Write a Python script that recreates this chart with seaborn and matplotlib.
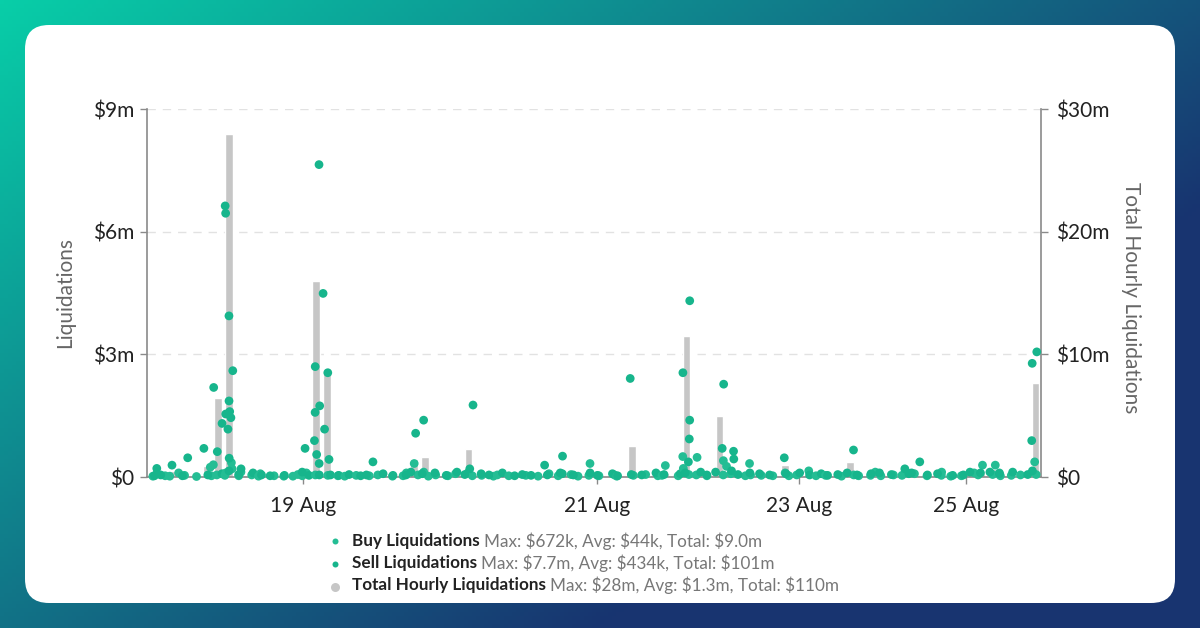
import numpy as np
import matplotlib
matplotlib.use("Agg")
import matplotlib.pyplot as plt
from matplotlib.patches import FancyBboxPatch
from matplotlib.lines import Line2D
import pandas as pd
import seaborn as sns

# total liquidations per hourly slot ($m, right axis)
total_hourly = [0.15, 0.5, 0.5, 0.1, 0.1, 0.9, 6.4, 28.0, 0.25, 0.1,
                0.1, 0.1, 0.1, 0.15, 0.7, 16.0, 8.7, 0.1, 0.1, 0.1,
                0.2, 0.1, 0.1, 0.4, 1.5, 1.6, 0.15, 0.1, 0.15, 2.3,
                0.15, 0.1, 0.15, 0.1, 0.1, 0.1, 0.2, 0.1, 0.3, 0.1,
                0.2, 0.1, 0.2, 0.1, 2.5, 0.1, 0.2, 0.3, 0.1, 11.5,
                0.3, 0.1, 5.0, 0.3, 0.1, 0.2, 0.1, 0.1, 0.95, 0.3,
                0.15, 0.1, 0.1, 0.1, 1.2, 0.1, 0.25, 0.1, 0.1, 0.8,
                0.2, 0.1, 0.15, 0.1, 0.1, 0.25, 0.3, 0.65, 0.2, 0.1,
                0.1, 7.7]
slots = list(range(len(total_hourly)))

# (slot, $m) for single liquidation orders
buy_points = [(0, 0.08), (0, 0.02), (1, 0.03), (2, 0.10), (2, 0.02), (3, 0.04), (4, 0.02),
              (5, 0.24), (5, 0.03), (6, 0.30), (6, 0.05), (7, 0.35), (7, 0.20), (7, 0.10),
              (7, 0.04), (8, 0.12), (8, 0.03), (9, 0.05), (10, 0.02), (10, 0.08), (11, 0.03),
              (12, 0.02), (13, 0.06), (13, 0.02), (14, 0.10), (14, 0.03), (15, 0.05), (16, 0.04),
              (17, 0.03), (18, 0.02), (19, 0.04), (20, 0.03), (21, 0.05), (22, 0.02), (23, 0.10),
              (23, 0.03), (24, 0.33), (24, 0.05), (25, 0.12), (25, 0.02), (26, 0.05), (27, 0.03),
              (28, 0.08), (29, 0.10), (29, 0.03), (30, 0.04), (31, 0.02), (32, 0.05), (33, 0.03),
              (34, 0.04), (35, 0.02), (36, 0.08), (37, 0.03), (38, 0.06), (39, 0.02), (40, 0.33),
              (40, 0.04), (41, 0.03), (42, 0.05), (43, 0.02), (44, 0.04), (45, 0.06), (46, 0.03),
              (47, 0.28), (47, 0.04), (48, 0.03), (49, 0.50), (49, 0.21), (49, 0.06), (50, 0.48),
              (50, 0.05), (51, 0.03), (52, 0.40), (52, 0.05), (53, 0.26), (53, 0.08), (54, 0.03),
              (55, 0.33), (55, 0.05), (56, 0.04), (57, 0.03), (58, 0.10), (58, 0.03), (59, 0.05),
              (60, 0.15), (61, 0.03), (62, 0.04), (63, 0.02), (64, 0.05), (65, 0.03), (66, 0.12),
              (66, 0.04), (67, 0.03), (68, 0.05), (69, 0.15), (69, 0.04), (70, 0.08), (71, 0.03),
              (72, 0.12), (72, 0.04), (73, 0.02), (74, 0.03), (75, 0.10), (76, 0.29), (76, 0.05),
              (77, 0.29), (77, 0.06), (78, 0.10), (78, 0.03), (79, 0.04), (80, 0.05), (81, 0.37),
              (81, 0.06)]
sell_points = [(0, 0.21), (0, 0.03), (1, 0.05), (2, 0.29), (3, 0.47), (3, 0.03), (5, 0.70),
               (5, 0.05), (6, 2.19), (6, 1.31), (6, 0.62), (6, 0.08), (7, 1.60), (7, 1.54),
               (7, 1.45), (7, 1.17), (7, 1.86), (7, 2.60), (7, 3.94), (7, 6.63), (7, 6.45),
               (7, 0.46), (7, 0.15), (8, 0.20), (8, 0.06), (9, 0.10), (10, 0.05), (11, 0.03),
               (12, 0.04), (14, 0.70), (14, 0.12), (14, 0.04), (15, 7.64), (15, 2.70), (15, 1.74),
               (15, 1.58), (15, 0.89), (15, 0.55), (15, 0.33), (15, 0.05), (16, 4.49), (16, 2.55),
               (16, 1.17), (16, 0.43), (16, 0.05), (17, 0.04), (18, 0.06), (19, 0.03), (20, 0.37),
               (20, 0.05), (21, 0.08), (22, 0.04), (23, 0.05), (24, 1.07), (24, 0.12), (25, 1.39),
               (25, 0.08), (26, 0.10), (27, 0.04), (28, 0.12), (29, 1.76), (29, 0.20), (29, 0.06),
               (30, 0.08), (31, 0.05), (32, 0.10), (33, 0.03), (34, 0.06), (35, 0.04), (36, 0.29),
               (36, 0.05), (37, 0.10), (38, 0.51), (38, 0.08), (39, 0.05), (40, 0.10), (41, 0.04),
               (42, 0.08), (43, 0.03), (44, 2.41), (44, 0.06), (45, 0.05), (46, 0.10), (47, 0.06),
               (48, 0.08), (49, 4.31), (49, 2.55), (49, 1.39), (49, 0.93), (49, 0.37), (49, 0.10),
               (50, 0.12), (51, 0.05), (52, 2.27), (52, 0.70), (52, 0.12), (53, 0.63), (53, 0.44),
               (53, 0.15), (54, 0.06), (55, 0.10), (56, 0.08), (57, 0.05), (58, 0.47), (58, 0.08),
               (59, 0.10), (60, 0.05), (61, 0.08), (62, 0.04), (63, 0.06), (64, 0.66), (64, 0.10),
               (65, 0.05), (66, 0.08), (67, 0.10), (68, 0.06), (69, 0.20), (69, 0.08), (70, 0.37),
               (70, 0.10), (71, 0.05), (72, 0.08), (73, 0.04), (74, 0.05), (75, 0.12), (76, 0.10),
               (77, 0.12), (78, 0.08), (79, 0.12), (80, 0.06), (81, 3.06), (81, 2.78), (81, 0.89),
               (81, 0.15)]

date_ticks = [13.8, 40.8, 59.3, 74.6]
date_labels = ["19 Aug", "21 Aug", "23 Aug", "25 Aug"]

legend_names = ["Buy Liquidations", "Sell Liquidations", "Total Hourly Liquidations"]
legend_stats = ["Max: $672k, Avg: $44k, Total: $9.0m",
                "Max: $7.7m, Avg: $434k, Total: $101m",
                "Max: $28m, Avg: $1.3m, Total: $110m"]

buy_color = "#24bd94"
sell_color = "#17b58c"
bar_color = "#c6c6c6"

sns.set_theme(style="white")
plt.rcParams["font.family"] = ["Lato", "DejaVu Sans"]

W, H = 1200, 628
fig = plt.figure(figsize=(12, 6.28), dpi=100)

# background gradient + white card
bg = fig.add_axes([0, 0, 1, 1])
gx, gy = np.meshgrid(np.linspace(0, 1, 300), np.linspace(0, 1, 160))
t = np.clip(0.8 * gx + 0.6 * gy, 0, 1)[..., None]
teal = np.array([8, 206, 168]) / 255
navy = np.array([24, 52, 112]) / 255
bg.imshow(teal * (1 - t) + navy * t, extent=[0, W, H, 0], aspect="auto")
bg.add_patch(FancyBboxPatch((25, 25), 1150, 578, boxstyle="round,pad=0,rounding_size=24",
                            facecolor="white", edgecolor="none"))
bg.set_xlim(0, W)
bg.set_ylim(H, 0)
bg.axis("off")

ax = fig.add_axes([147 / W, 1 - 477 / H, (1041 - 147) / W, (477 - 109) / H])
ax2 = ax.twinx()

sns.barplot(x=slots, y=total_hourly, native_scale=True, width=0.7, color=bar_color,
            saturation=1, errorbar=None, ax=ax2)

pts = pd.DataFrame(
    [(s, v, "Buy") for s, v in buy_points] + [(s, v, "Sell") for s, v in sell_points],
    columns=["slot", "value", "kind"])
np.random.seed(4)
sns.stripplot(data=pts, x="slot", y="value", hue="kind", native_scale=True, jitter=0.42,
              palette={"Buy": buy_color, "Sell": sell_color}, size=6.3, linewidth=0,
              legend=False, ax=ax)
for c in ax.collections:
    c.set_clip_on(False)

ax.set_zorder(ax2.get_zorder() + 1)
ax.patch.set_visible(False)

for a in (ax, ax2):
    a.set_xlim(-0.5, len(slots) - 0.5)
ax.set_ylim(0, 9)
ax2.set_ylim(0, 30)

ax.set_yticks([0, 3, 6, 9])
ax.set_yticklabels(["$0", "$3m", "$6m", "$9m"])
ax2.set_yticks([0, 10, 20, 30])
ax2.set_yticklabels(["$0", "$10m", "$20m", "$30m"])
ax.set_xticks(date_ticks)
ax.set_xticklabels(date_labels)
ax.set_xlabel("")
ax.set_ylabel("")
ax2.set_ylabel("")

ax2.grid(axis="y", color="#e2e2e2", linestyle=(0, (6, 5)), linewidth=1)
ax2.grid(axis="x", visible=False)
ax.grid(False)
ax2.set_axisbelow(True)

spine_c = "#8a8a8a"
for a in (ax, ax2):
    for s in a.spines.values():
        s.set_visible(False)
ax.spines["left"].set_visible(True)
ax.spines["bottom"].set_visible(True)
ax2.spines["right"].set_visible(True)
for s in (ax.spines["left"], ax.spines["bottom"], ax2.spines["right"]):
    s.set_color(spine_c)
    s.set_linewidth(1.2)

ax.tick_params(axis="y", left=True, length=5, width=1, color=spine_c, pad=4,
               labelsize=15, labelcolor="#222222")
ax.tick_params(axis="x", bottom=True, length=5, width=1, color=spine_c, pad=9,
               labelsize=15, labelcolor="#222222")
ax2.tick_params(axis="y", right=True, length=5, width=1, color=spine_c, pad=6,
                labelsize=15, labelcolor="#222222")
ax2.tick_params(axis="x", bottom=False, labelbottom=False)

fig.text(65 / W, 1 - 293 / H, "Liquidations", rotation=90, ha="center", va="center",
         fontsize=15, color="#666666")
fig.text(1131 / W, 1 - 298 / H, "Total Hourly Liquidations", rotation=270, ha="center",
         va="center", fontsize=15, color="#666666")

# legend below the plot
fig.canvas.draw()
rend = fig.canvas.get_renderer()
rows_y = [541, 563, 585]
marker_y = [541, 564, 587]
marker_c = [buy_color, sell_color, bar_color]
marker_s = [6, 6, 9]
for i in range(3):
    fig.add_artist(Line2D([335 / W], [1 - marker_y[i] / H], marker="o", linestyle="none",
                          markersize=marker_s[i] * 0.72, color=marker_c[i],
                          markeredgewidth=0, transform=fig.transFigure))
    tx = fig.text(352 / W, 1 - rows_y[i] / H, legend_names[i], fontsize=12.3, weight="bold",
                  color="#222222", va="center", ha="left")
    bb = tx.get_window_extent(rend)
    fig.text((bb.x1 + 4) / W, 1 - rows_y[i] / H, legend_stats[i], fontsize=12.3,
             color="#777777", va="center", ha="left")

fig.savefig("out.png", dpi=100)
